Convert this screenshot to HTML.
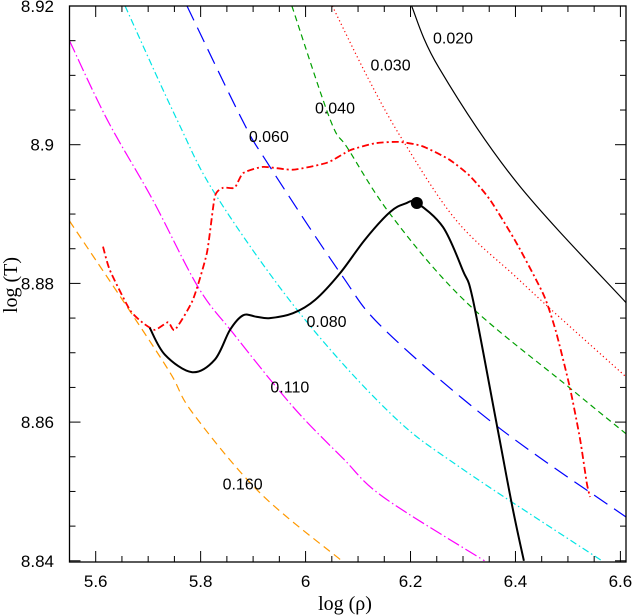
<!DOCTYPE html>
<html><head><meta charset="utf-8"><style>
html,body{margin:0;padding:0;background:#fff;}
svg{display:block;}
text{font-family:"Liberation Sans",sans-serif;}
</style></head><body>
<svg id="chart" width="633" height="616" viewBox="0 0 633 616">
<defs><clipPath id="clip"><rect x="69.5" y="6" width="556.5" height="556"/></clipPath></defs>
<g id="plot" clip-path="url(#clip)"></g>
<g id="axes"></g>
</svg>
<script>
const xTicks=[5.6,5.8,6,6.2,6.4,6.6];
const xTickLabels=["5.6","5.8","6","6.2","6.4","6.6"];
const yTicks=[8.84,8.86,8.88,8.9,8.92];
const yTickLabels=["8.84","8.86","8.88","8.9","8.92"];
const c020x=[6.202,6.254,6.403,6.611];
const c020y=[8.92,8.9111,8.8945,8.8772];
const c030x=[6.051,6.119,6.184,6.287,6.403,6.477,6.611];
const c030y=[8.92,8.9096,8.9008,8.8891,8.8808,8.8756,8.8665];
const c040x=[5.974,6.047,6.081,6.165,6.306,6.504,6.611];
const c040y=[8.92,8.9036,8.8994,8.8896,8.8773,8.8649,8.8583];
const c060x=[5.774,5.879,5.927,6.066,6.151,6.365,6.611];
const c060y=[8.92,8.9036,8.8974,8.8815,8.8733,8.8594,8.8463];
const c080x=[5.656,5.755,5.831,5.989,6.161,6.294,6.565];
const c080y=[8.92,8.9036,8.8925,8.8757,8.8613,8.8535,8.84];
const c110x=[5.55,5.622,5.709,5.795,5.862,5.976,6.071,6.148,6.341];
const c110y=[8.915,8.9036,8.892,8.8795,8.8728,8.8622,8.8548,8.8492,8.84];
const c160x=[5.55,5.66,5.742,5.785,5.913,6.069];
const c160y=[8.889,8.8766,8.8671,8.8613,8.8498,8.84];
const trackX=[5.703,5.732,5.784,5.827,5.856,5.881,5.906,5.932,5.976,6.018,6.066,6.113,6.161,6.19,6.212,6.262,6.30,6.319,6.365,6.393,6.416];
const trackY=[8.8736,8.8697,8.8672,8.869,8.8733,8.8754,8.8752,8.875,8.8757,8.8776,8.8815,8.8863,8.8903,8.8915,8.8916,8.8881,8.8818,8.8776,8.8594,8.8482,8.84];
const redX=[5.614,5.627,5.665,5.69,5.713,5.738,5.751,5.785,5.812,5.827,5.843,5.865,5.881,5.919,5.976,6.041,6.085,6.132,6.178,6.222,6.273,6.313,6.352,6.403,6.454,6.477,6.504,6.523,6.536,6.542];
const redY=[8.8853,8.8819,8.8762,8.8743,8.8733,8.8744,8.8733,8.8776,8.8844,8.8925,8.8938,8.8938,8.8959,8.8968,8.8964,8.8974,8.8992,8.9002,8.9004,8.8998,8.8979,8.8955,8.892,8.8857,8.8783,8.8731,8.8649,8.8576,8.8512,8.8492];
const dotX=[6.212];
const dotY=[8.8916];
const labelText=["0.020","0.030","0.040","0.060","0.080","0.110","0.160"];
const labelX=[6.281,6.162,6.056,5.930,6.040,5.970,5.880];
const labelY=[8.9146,8.9107,8.9045,8.9004,8.8737,8.8643,8.8503];

const NS="http://www.w3.org/2000/svg";
const X0=69.5,X1=626,Y0=6,Y1=562;
function sx(v){return 95.7+(v-5.6)*524.7;}
function sy(v){return 6+(8.92-v)*6935;}
const plot=document.getElementById('plot');
const axes=document.getElementById('axes');
function mk(tag,attrs,parent){const e=document.createElementNS(NS,tag);for(const k in attrs)e.setAttribute(k,attrs[k]);parent.appendChild(e);return e;}
function curve(xs,ys,color,dash,w,name,smooth){
  const P=xs.map((v,i)=>[sx(v),sy(ys[i])]);
  let d='M'+P[0][0].toFixed(1)+','+P[0][1].toFixed(1);
  for(let i=0;i<P.length-1;i++){
    const p0=P[Math.max(0,i-1)],p1=P[i],p2=P[i+1],p3=P[Math.min(P.length-1,i+2)];
    const t=smooth/6;
    const c1=[p1[0]+(p2[0]-p0[0])*t,p1[1]+(p2[1]-p0[1])*t];
    const c2=[p2[0]-(p3[0]-p1[0])*t,p2[1]-(p3[1]-p1[1])*t];
    d+='C'+c1[0].toFixed(1)+','+c1[1].toFixed(1)+' '+c2[0].toFixed(1)+','+c2[1].toFixed(1)+' '+p2[0].toFixed(1)+','+p2[1].toFixed(1);
  }
  const p=mk('path',{d:d,fill:'none',stroke:color,'stroke-width':w,'stroke-dasharray':dash,'stroke-linejoin':'round'},plot);
  
  
}
curve(c020x,c020y,'#000','none',1.2,'line-0-020',1);
curve(c030x,c030y,'#ff0000','1.2,2.8',1.2,'line-0-030',1);
curve(c040x,c040y,'#00a000','6,4',1.2,'line-0-040',1);
curve(c060x,c060y,'#0000ff','16,8',1.2,'line-0-060',1);
curve(c080x,c080y,'#00e5e5','7,3,1.5,3',1.2,'line-0-080',1);
curve(c110x,c110y,'#ff00ff','13,3,1.5,3',1.2,'line-0-110',1);
curve(c160x,c160y,'#ff9900','8,5',1.2,'line-0-160',1);
curve(redX,redY,'#ff0000','7,3,2,3',1.8,'red-track',0.6);
curve(trackX,trackY,'#000','none',2,'black-track',1);
for(let i=0;i<dotX.length;i++){
  const c=mk('circle',{cx:sx(dotX[i]),cy:sy(dotY[i]),r:6,fill:'#000'},plot);
  
  
}
for(let i=0;i<labelText.length;i++){
  const t=mk('text',{x:sx(labelX[i]),y:sy(labelY[i]),'font-size':16,'text-anchor':'middle',fill:'#000'},axes);
  t.textContent=labelText[i];
  
  
}
const fr=mk('rect',{x:X0,y:Y0,width:X1-X0,height:Y1-Y0,fill:'none',stroke:'#000','stroke-width':1.3},axes);


for(let k=0;k<=21;k++){
  const v=5.55+k*0.05; if(v>6.61)break;
  const px=sx(v); if(px<X0+1||px>X1-1)continue;
  const r=Math.round(v*100)%20;
  const major=(r===0);
  const L=major?11:6;
  mk('line',{x1:px,y1:Y1,x2:px,y2:Y1-L,stroke:'#000','stroke-width':1},axes);
  mk('line',{x1:px,y1:Y0,x2:px,y2:Y0+L,stroke:'#000','stroke-width':1},axes);
}
for(let k=0;k<=16;k++){
  const v=8.84+k*0.005; const py=sy(v); if(py<Y0+1||py>Y1-1)continue;
  const major=(k%4===0);const L=major?11:6;
  mk('line',{x1:X0,y1:py,x2:X0+L,y2:py,stroke:'#000','stroke-width':1},axes);
  mk('line',{x1:X1,y1:py,x2:X1-L,y2:py,stroke:'#000','stroke-width':1},axes);
}
for(let i=0;i<xTicks.length;i++){
  const t=mk('text',{x:sx(xTicks[i]),y:587,'font-size':17,'text-anchor':'middle',fill:'#000'},axes);
  t.textContent=xTickLabels[i];
  
  
}
for(let i=0;i<yTicks.length;i++){
  const t=mk('text',{x:54,y:sy(yTicks[i])+6,'font-size':17,'text-anchor':'end',fill:'#000'},axes);
  t.textContent=yTickLabels[i];
  
  
}
const xt=mk('text',{x:345,y:610,'font-size':20,'text-anchor':'middle',fill:'#000',style:'font-family:"Liberation Serif",serif'},axes);
xt.textContent='log (ρ)';


const yt=mk('text',{x:0,y:0,'font-size':20,'text-anchor':'middle',fill:'#000',transform:'translate(17,285) rotate(-90)',style:'font-family:"Liberation Serif",serif'},axes);
yt.textContent='log (T)';


</script>
</body></html>
